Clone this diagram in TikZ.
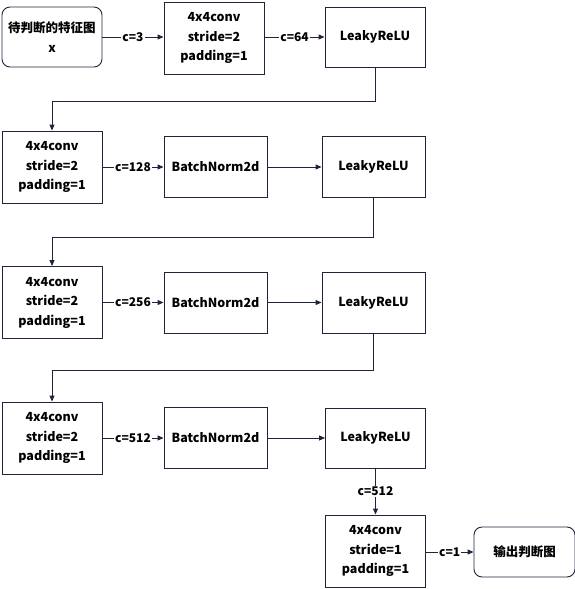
\documentclass[tikz,border=0pt]{standalone}
\usepackage{fontspec}
\setmainfont{Noto Sans CJK SC}
\usetikzlibrary{arrows.meta}
\definecolor{ln}{RGB}{30,36,60}
\begin{document}
\begin{tikzpicture}[x=1pt,y=-1pt,
  box/.style={draw=ln,line width=0.9pt,align=center,inner sep=0pt,
    minimum width=100pt,minimum height=72pt,
    font=\fontsize{12.5}{19.5}\selectfont\bfseries},
  rbox/.style={box,rounded corners=8pt,minimum height=60pt},
  sbox/.style={box,minimum height=60pt},
  wbox/.style={box,minimum width=103pt,minimum height=61pt},
  conn/.style={draw=ln,line width=0.9pt,-{Triangle[length=6pt,width=5pt]}},
  lab/.style={fill=white,inner sep=1pt,font=\fontsize{12}{14}\selectfont\bfseries}]
\useasboundingbox (0,0) rectangle (575,589);
% row 1
\node[rbox] (in) at (52,37) {待判断的特征图\\x};
\node[box] (c1) at (214,38) {4x4conv\\stride=2\\padding=1};
\node[sbox] (l1) at (375,37) {LeakyReLU};
% row 2
\node[box] (c2) at (52,167) {4x4conv\\stride=2\\padding=1};
\node[wbox] (b2) at (215.5,167) {BatchNorm2d};
\node[wbox] (l2) at (373.5,167) {LeakyReLU};
% row 3
\node[box] (c3) at (52,302.5) {4x4conv\\stride=2\\padding=1};
\node[wbox] (b3) at (215.5,302.5) {BatchNorm2d};
\node[wbox] (l3) at (373.5,302.5) {LeakyReLU};
% row 4
\node[box] (c4) at (52,438) {4x4conv\\stride=2\\padding=1};
\node[wbox] (b4) at (215.5,438) {BatchNorm2d};
\node[sbox] (l4) at (375.5,438) {LeakyReLU};
% final
\node[box] (c5) at (375.5,551) {4x4conv\\stride=1\\padding=1};
\node[rbox,minimum width=101pt,minimum height=50pt] (out) at (524.5,552) {输出判断图};
% connectors
\draw[conn] (in.east) -- node[lab]{c=3} (c1.west |- in.east);
\draw[conn] (c1.east |- l1.west) -- node[lab]{c=64} (l1.west);
\coordinate (t1) at (52,101);
\draw[conn] (l1.south) |- (t1) -- (c2.north);
\draw[conn] (c2.east) -- node[lab]{c=128} (b2.west);
\draw[conn] (b2.east) -- (l2.west);
\coordinate (t2) at (52,237);
\draw[conn] (l2.south) |- (t2) -- (c3.north);
\draw[conn] (c3.east) -- node[lab]{c=256} (b3.west);
\draw[conn] (b3.east) -- (l3.west);
\coordinate (t3) at (52,370);
\draw[conn] (l3.south) |- (t3) -- (c4.north);
\draw[conn] (c4.east) -- node[lab]{c=512} (b4.west);
\draw[conn] (b4.east) -- (l4.west);
\draw[conn] (l4.south) -- node[lab]{c=512} (c5.north);
\draw[conn] (c5.east |- out.west) -- node[lab]{c=1} (out.west);
\end{tikzpicture}
\end{document}
